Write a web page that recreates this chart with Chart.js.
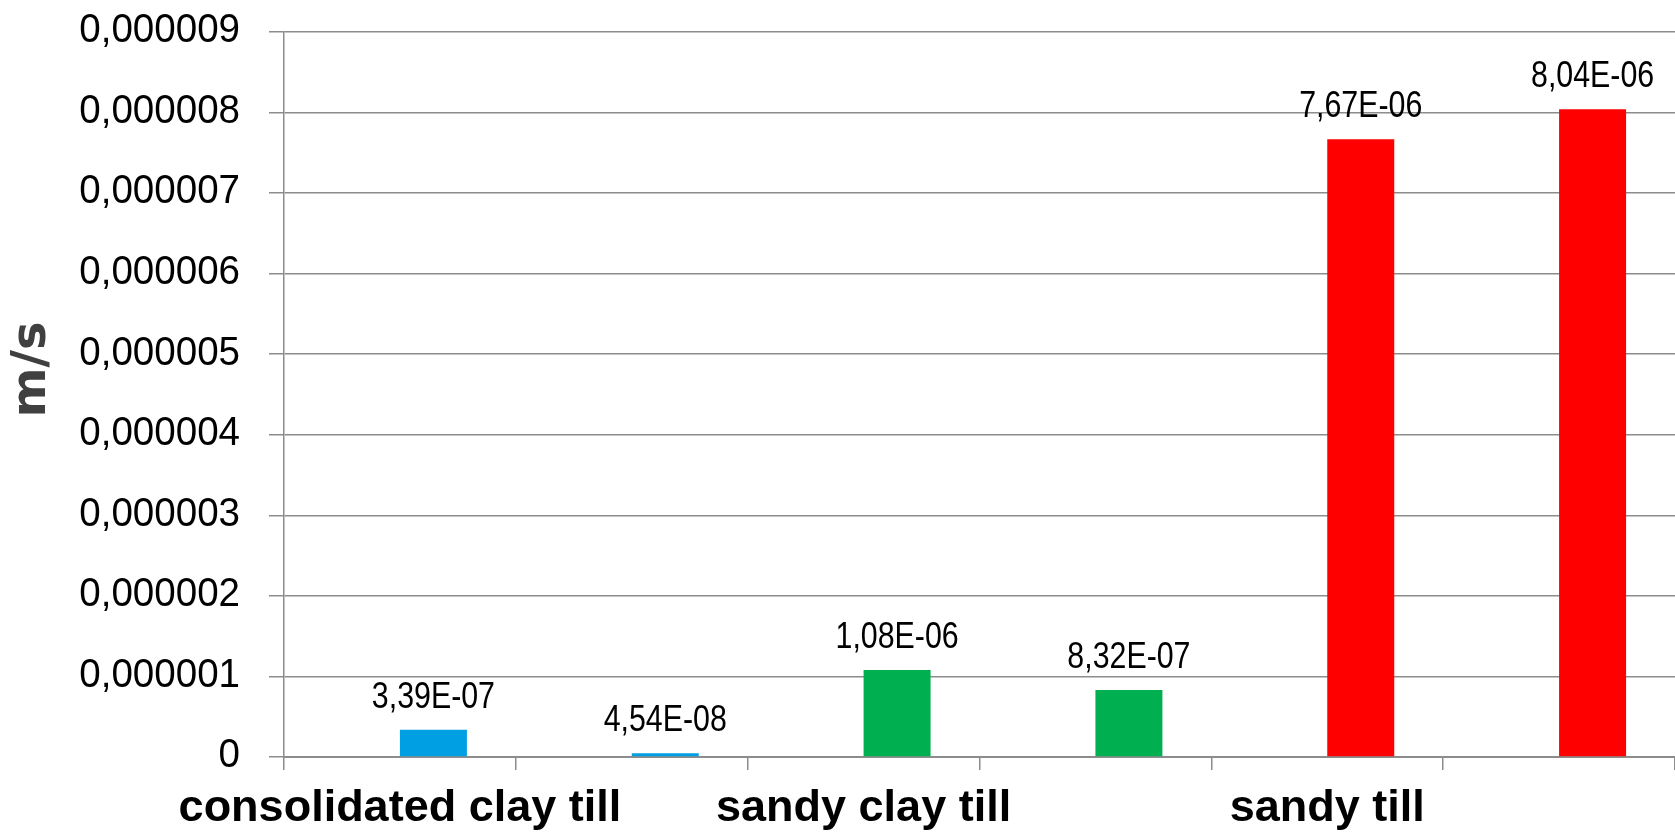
<!DOCTYPE html>
<html>
<head>
<meta charset="utf-8">
<script src="https://cdn.jsdelivr.net/npm/chart.js@4/dist/chart.umd.min.js"></script>
<style>
  html, body { margin: 0; padding: 0; background: #fff; }
  #wrap { width: 1675px; height: 836px; }
</style>
</head>
<body>
<div id="wrap"><canvas id="chart"></canvas></div>
<script>
// categorias (so o primeiro de cada par leva rotulo)
const categorias = ['consolidated clay till', '', 'sandy clay till', '', 'sandy till', ''];
// condutividade hidraulica, m/s
const valores = [3.39e-7, 4.54e-8, 1.08e-6, 8.32e-7, 7.67e-6, 8.04e-6];
// serie vazia que ocupa a metade esquerda de cada grupo
const serieVazia = [null, null, null, null, null, null];
const cores = ['#009FE3', '#009FE3', '#00B050', '#00B050', '#FF0000', '#FF0000'];
const eixoY = { min: 0, max: 0.000009, passo: 0.000001 };

const fonte = '"Liberation Sans", Arial, sans-serif';
const gridCor = '#8c8c8c';

// 3.39e-7 -> 3,39E-07
function formatoExp(v) {
    const partes = v.toExponential(2).split('e');
    const exp = parseInt(partes[1], 10);
    const sinal = exp < 0 ? '-' : '+';
    const num = String(Math.abs(exp)).padStart(2, '0');
    return partes[0].replace('.', ',') + 'E' + sinal + num;
}

function formatoEixo(v) {
    if (Math.abs(v) < 1e-12) return '0';
    return v.toFixed(6).replace('.', ',');
}

// texto comprimido na horizontal
function textoEstreito(ctx, txt, x, y, fator) {
    ctx.save();
    ctx.translate(x, y);
    ctx.scale(fator, 1);
    ctx.fillText(txt, 0, 0);
    ctx.restore();
}

// rotulos do eixo Y e valores em cima das barras
const rotulos = {
    id: 'rotulos',
    afterDatasetsDraw(chart) {
        const ctx = chart.ctx;
        const y = chart.scales.y;
        ctx.save();
        ctx.fillStyle = '#000';

        ctx.font = '41px ' + fonte;
        ctx.textAlign = 'right';
        ctx.textBaseline = 'middle';
        y.ticks.forEach(function (t) {
            textoEstreito(ctx, formatoEixo(t.value), y.right - 44, y.getPixelForValue(t.value) - 1, 0.94);
        });

        ctx.font = '37px ' + fonte;
        ctx.textAlign = 'center';
        ctx.textBaseline = 'alphabetic';
        chart.getDatasetMeta(1).data.forEach(function (bar, i) {
            textoEstreito(ctx, formatoExp(valores[i]), bar.x, bar.y - 22, 0.82);
        });
        ctx.restore();
    }
};

const ctx = document.getElementById('chart').getContext('2d');

new Chart(ctx, {
    type: 'bar',
    data: {
        labels: categorias,
        datasets: [{
            label: 'vazio',
            data: serieVazia,
            backgroundColor: '#ffffff'
        }, {
            label: 'm/s',
            data: valores,
            backgroundColor: cores
        }]
    },
    options: {
        responsive: true,
        maintainAspectRatio: false,
        animation: false,
        categoryPercentage: 0.578,
        barPercentage: 1,
        layout: { padding: { top: 32, right: 0, left: 0, bottom: 0 } },
        plugins: {
            legend: { display: false },
            tooltip: { enabled: false }
        },
        scales: {
            x: {
                offset: true,
                grid: {
                    offset: true,
                    drawOnChartArea: false,
                    color: gridCor,
                    lineWidth: 1.5,
                    tickLength: 13
                },
                border: { color: gridCor, width: 2 },
                ticks: {
                    color: '#000',
                    font: { family: fonte, size: 45, weight: 'bold' },
                    padding: 12,
                    maxRotation: 0,
                    autoSkip: false
                },
                afterFit: function (scale) { scale.height = 79; }
            },
            y: {
                min: eixoY.min,
                max: eixoY.max,
                grid: {
                    color: gridCor,
                    lineWidth: 1.5,
                    tickLength: 15
                },
                border: { color: gridCor, width: 1.5 },
                ticks: {
                    stepSize: eixoY.passo,
                    display: false
                },
                title: {
                    display: true,
                    text: '   m/s',
                    color: '#404040',
                    font: { family: '"DejaVu Sans", sans-serif', size: 48, weight: 'bold', lineHeight: 1 },
                    padding: { top: 9, bottom: 0 }
                },
                afterFit: function (scale) { scale.width = 284; }
            }
        }
    },
    plugins: [rotulos]
});
</script>
</body>
</html>
